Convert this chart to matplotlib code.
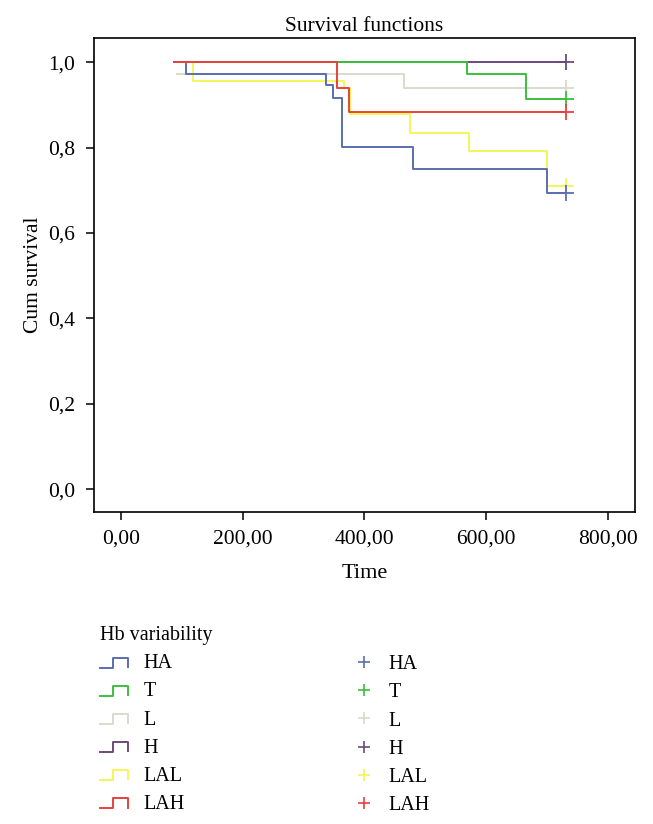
import matplotlib
matplotlib.use("Agg")
import matplotlib.pyplot as plt
from matplotlib.lines import Line2D
from matplotlib.legend_handler import HandlerBase

plt.rcParams['font.family'] = ['Liberation Serif', 'DejaVu Serif']

groups = ["HA", "T", "L", "H", "LAL", "LAH"]
colors = ["#5b6fae", "#3cbf3c", "#d9d9cc", "#6a4c7c", "#f5f55a", "#e84040"]

ha_t = [86.5, 106.5, 337, 349, 363, 479.5, 700, 730.7]
ha_s = [1.0, 0.972, 0.947, 0.917, 0.802, 0.749, 0.694, 0.694]
t_t = [86.5, 568, 665.5, 730.7]
t_s = [1.0, 0.972, 0.914, 0.914]
l_t = [92, 465.7, 730.7]
l_s = [0.972, 0.940, 0.940]
h_t = [86.5, 730.7]
h_s = [1.0, 1.0]
lal_t = [86.5, 118, 367, 376.5, 475, 572, 700, 730.7]
lal_s = [1.0, 0.957, 0.939, 0.878, 0.834, 0.793, 0.711, 0.711]
lah_t = [86.5, 354.6, 375.4, 730.7]
lah_s = [1.0, 0.940, 0.883, 0.883]

times = [ha_t, t_t, l_t, h_t, lal_t, lah_t]
survs = [ha_s, t_s, l_s, h_s, lal_s, lah_s]
zorders = [5, 4, 2, 3, 4.5, 6]

xticks = [0, 200, 400, 600, 800]
xticklabels = ["0,00", "200,00", "400,00", "600,00", "800,00"]
yticks = [0.0, 0.2, 0.4, 0.6, 0.8, 1.0]
yticklabels = ["0,0", "0,2", "0,4", "0,6", "0,8", "1,0"]

fig = plt.figure(figsize=(6.53, 8.24), dpi=100)
ax = fig.add_axes([93.5/653, 1-511.7/824, (635.3-93.5)/653, (511.7-38.3)/824])

for t, s, c, z in zip(times, survs, colors, zorders):
    ax.step(t, s, where='post', color=c, lw=1.4, zorder=z)
    ax.plot([t[-1]], [s[-1]], marker='+', color=c, ms=11, mew=1.3, zorder=z + 1)

ax.set_xlim(-45, 845)
ax.set_ylim(-0.053, 1.056)
ax.set_xticks(xticks)
ax.set_xticklabels(xticklabels)
ax.set_yticks(yticks)
ax.set_yticklabels(yticklabels)
ax.tick_params(direction='out', length=6, width=1.1, labelsize=15.5, pad=7, top=False, right=False)
for sp in ax.spines.values():
    sp.set_linewidth(1.2)
ax.set_title("Survival functions", fontsize=15.5, pad=5)
ax.set_xlabel("Time", fontsize=16, labelpad=11)
ax.set_ylabel("Cum survival", fontsize=15.5, labelpad=4)


class StepHandler(HandlerBase):
    def create_artists(self, legend, orig_handle, xdescent, ydescent,
                       width, height, fontsize, trans):
        x0 = -xdescent
        y0 = -ydescent + height * 0.05
        y1 = -ydescent + height * 0.75
        xs = [x0, x0 + 0.45 * width, x0 + 0.45 * width, x0 + width, x0 + width]
        ys = [y0, y0, y1, y1, y0 + 0.05 * height]
        ln = Line2D(xs, ys, color=orig_handle.get_color(), lw=1.4)
        ln.set_transform(trans)
        return [ln]


step_handles = [Line2D([], [], color=c) for c in colors]
leg1 = fig.legend(step_handles, groups, loc='upper left',
                  bbox_to_anchor=(86/653, 1-612/824), frameon=False,
                  title="Hb variability", title_fontsize=14.5, fontsize=14.5,
                  handler_map={Line2D: StepHandler()}, handlelength=1.4,
                  handletextpad=0.75, labelspacing=0.45, alignment='left',
                  borderpad=0.2)

plus_handles = [Line2D([], [], color=c, marker='+', ls='None', ms=9, mew=1.2) for c in colors]
leg2 = fig.legend(plus_handles, groups, loc='upper left',
                  bbox_to_anchor=(340/653, 1-641/824), frameon=False,
                  fontsize=14.5, handlelength=1.0, handletextpad=0.7,
                  labelspacing=0.45, borderpad=0.2)

fig.savefig("out.png", dpi=100)
